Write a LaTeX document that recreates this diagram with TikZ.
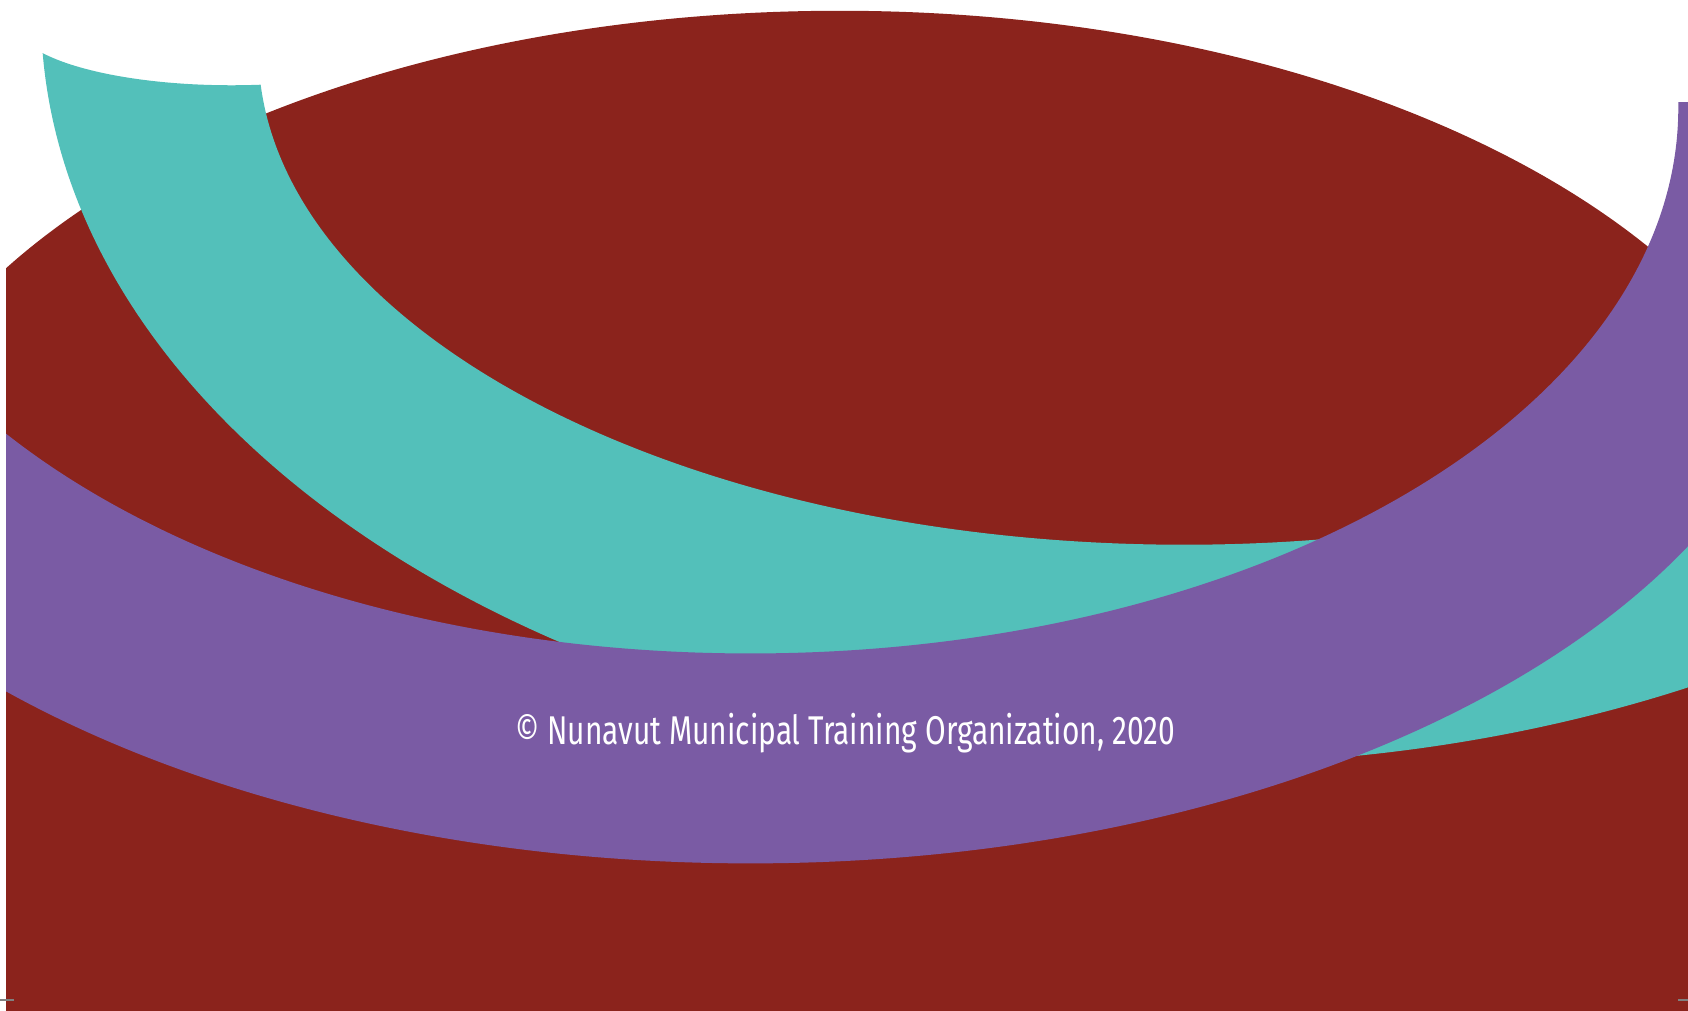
\documentclass[tikz,border=0pt]{standalone}
\usepackage{fontspec}
\newfontfamily\capfont[FakeStretch=0.745]{Fira Sans}
\definecolor{nmtored}{HTML}{8B231C}
\definecolor{nmtoteal}{HTML}{53C0BA}
\definecolor{nmtopurple}{HTML}{7A5BA4}
\begin{document}
\begin{tikzpicture}[x=0.01cm, y=-0.01cm]
          \useasboundingbox (0,0) rectangle (1568,939);
          \fill [white] (0,0) rectangle (1568,939);
          \begin{scope}
            \clip (5.6,-20) rectangle (1570,960);
            % red ground
            \fill [nmtored] (780,514) ellipse [x radius=910, y radius=504];
            \fill [nmtored] (0,514) rectangle (1570,960);
            % teal band
            \begin{scope}[even odd rule]
              \clip (-50,-800) rectangle (1700,960) (215,21.6) ellipse [x radius=200, y radius=57.6];
              \fill [nmtoteal] (1100,10) ellipse [x radius=1062, y radius=700] (1100,46) ellipse [x radius=860, y radius=460];
            \end{scope}
            % purple band
            \begin{scope}[even odd rule]
              \clip (-50,95.4) rectangle (1700,960);
              \fill [nmtopurple] (697,240) ellipse [x radius=990, y radius=562] (697,100) ellipse [x radius=862, y radius=507];
            \end{scope}
          \end{scope}
          \draw [gray, line width=0.7pt] (0,929) -- ++(13,0);
          \draw [gray, line width=0.7pt] (1559,929) -- ++(9,0);
          \node (credit) [text=white, font=\capfont\fontsize{10.6}{12}\selectfont] at (785,681) {© Nunavut Municipal Training Organization, 2020};
      \end{tikzpicture}
\end{document}
